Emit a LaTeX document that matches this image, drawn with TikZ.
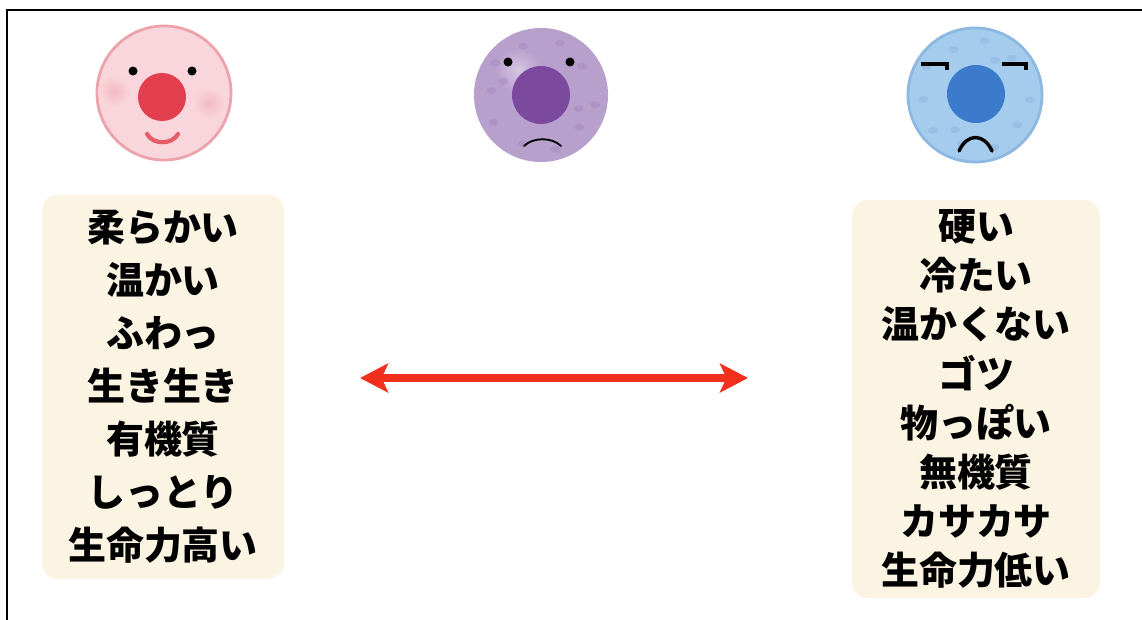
\documentclass[tikz,border=0pt]{standalone}
\usepackage{fontspec}
\newfontfamily\jpfont{Noto Sans CJK JP}
\usetikzlibrary{arrows.meta}
\definecolor{cream}{HTML}{FBF4E3}
\definecolor{softbody}{HTML}{F9D6DB}
\definecolor{softrim}{HTML}{EDA3AC}
\definecolor{softnose}{HTML}{E2404F}
\definecolor{blush}{HTML}{F4BAC2}
\definecolor{midbody}{HTML}{B8A0CD}
\definecolor{midspot}{HTML}{A287BE}
\definecolor{midnose}{HTML}{7B4A9F}
\definecolor{hardbody}{HTML}{A5CCEC}
\definecolor{hardrim}{HTML}{8DB8E1}
\definecolor{hardspot}{HTML}{8AB5DE}
\definecolor{hardnose}{HTML}{3C7ACB}
\definecolor{arrowred}{HTML}{F0301D}

\begin{document}
\begin{tikzpicture}[x=0.025cm,y=-0.025cm,
  cell/.style={circle,minimum size=3.35cm,inner sep=0pt,line width=2pt},
  wordbox/.style={fill=cream,rounded corners=0.4cm,align=center,inner sep=0pt,
    font=\jpfont\bfseries\fontsize{27}{37.7}\selectfont},
  face/.style={line width=2pt,line cap=round}]
\useasboundingbox (0,0) rectangle (1142,619);
\draw[line width=1.4pt] (7,630) -- (7,10) -- (1150,10);

% soft cell
\node[cell,fill=softbody,draw=softrim] (softcell) at (164,93) {};
\shade[inner color=blush,outer color=softbody] (114,91) circle (16);
\shade[inner color=blush,outer color=softbody] (209,103) circle (16);
\fill[softnose] (162,97) circle (24);
\fill (133,71) circle (4.5) (192,71) circle (4.5);
\draw[face,softnose!85,line width=3pt] (147,134) .. controls (153,145) and (172,145) .. (178,134);

% middle cell
\node[cell,fill=midbody] (midcell) at (541,95) {};
\shade[inner color=midbody!60!white,outer color=midbody] (518,70) circle (22);
\foreach \a/\r in {10/55,40/50,75/56,110/52,150/55,185/50,215/56,250/52,290/55,325/50,20/40,200/40}
  \fill[midspot,opacity=0.45,shift={(541,95)}] (\a:\r) ellipse (5 and 3.5);
\fill[midnose] (541,95) circle (29);
\fill (508,62) circle (4.5) (570,62) circle (4.5);
\draw[face,line width=1.3pt] (524,146) .. controls (533,137) and (552,137) .. (561,146);

% hard cell
\node[cell,fill=hardbody,draw=hardrim] (hardcell) at (975,95) {};
\foreach \a/\r in {5/55,35/52,70/56,105/50,140/55,175/52,210/56,245/50,280/55,315/52,120/40,300/40}
  \fill[hardspot,opacity=0.5,shift={(975,95)}] (\a:\r) ellipse (5 and 3.5);
\fill[hardnose] (976,94) circle (29);
\draw[face,line width=2.4pt,line cap=butt] (921,64) -- (947,64) -- (947,70);
\draw[face,line width=2.4pt,line cap=butt] (1002,64) -- (1026,64) -- (1026,70);
\draw[face,line width=2.4pt] (959,151) .. controls (967,133) and (984,133) .. (992,151);

% word lists
\node[wordbox,minimum width=6.05cm,minimum height=9.6cm] (softwords) at (163,387)
  {柔らかい\\温かい\\ふわっ\\生き生き\\有機質\\しっとり\\生命力高い};
\node[wordbox,minimum width=6.2cm,minimum height=9.95cm,
  font=\jpfont\bfseries\fontsize{27}{34.9}\selectfont] (hardwords) at (976,399)
  {硬い\\冷たい\\温かくない\\ゴツ\\物っぽい\\無機質\\カサカサ\\生命力低い};

\coordinate (softend) at (360,378);
\coordinate (hardend) at (748,378);
\draw[{Stealth[length=0.7cm,width=0.72cm,inset=0.16cm]}-{Stealth[length=0.7cm,width=0.72cm,inset=0.16cm]},
  line width=5pt,arrowred] (softend) -- (hardend);
\end{tikzpicture}
\end{document}
